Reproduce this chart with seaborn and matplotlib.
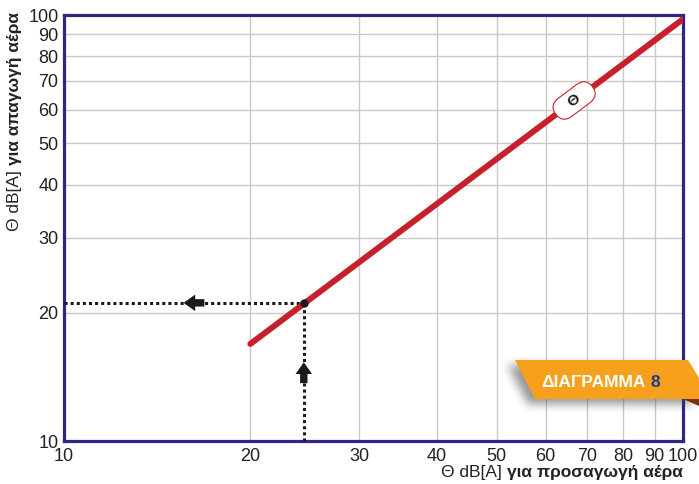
import numpy as np
import pandas as pd
import matplotlib
matplotlib.use("Agg")
import matplotlib.pyplot as plt
import seaborn as sns
from matplotlib.patches import Polygon
from matplotlib.path import Path
from matplotlib.text import Annotation

# noise level at supply (x) vs extract (y)
supply_db = [20, 100]
extract_db = [16.9, 97.8]
tick_vals = [10, 20, 30, 40, 50, 60, 70, 80, 90, 100]
tick_labels = ["10", "20", "30", "40", "50", "60", "70", "80", "90", "100"]

# example reading drawn with dotted lines
read_x = 24.4
read_y = 21.1
arrow_left_x = 15.6
arrow_up_y = 15.3

# position of the curve label
label_x = 66.7
label_y = 63.0

red = "#c8202a"
navy = "#2d2784"
ink = "#1a1a1a"

sns.set_style("white")
plt.rcParams["font.family"] = ["Liberation Sans", "DejaVu Sans"]

W, H = 699, 484
fig = plt.figure(figsize=(W / 100, H / 100), dpi=100)
ax = fig.add_axes([64 / W, 1 - 441 / H, (683 - 64) / W, (441 - 15) / H])

ax.set_xscale("log")
ax.set_yscale("log")
ax.set_xlim(10, 100)
ax.set_ylim(10, 100)
ax.set_xticks(tick_vals, tick_labels)
ax.set_yticks(tick_vals, tick_labels)
ax.minorticks_off()
ax.tick_params(length=0, labelsize=13, colors="#222222")
ax.tick_params(axis="x", pad=5)
ax.tick_params(axis="y", pad=4)
ax.grid(True, color="#c9c9c9", lw=1.0)
for s in ax.spines.values():
    s.set_color(navy)
    s.set_linewidth(2.3)

df = pd.DataFrame({"supply": supply_db, "extract": extract_db})
sns.lineplot(data=df, x="supply", y="extract", color=red, lw=4.3,
             solid_capstyle="round", ax=ax, zorder=4)
ax.set_xlabel("")
ax.set_ylabel("")

# dotted reading lines
dots = (0, (1, 1))
ax.plot([read_x, read_x], [10, read_y], color=ink, lw=2.2, ls=dots, zorder=3)
ax.plot([10, read_x], [read_y, read_y], color=ink, lw=2.2, ls=dots, zorder=3)
ax.plot(read_x, read_y, "o", ms=5, color=ink, zorder=5)

aprops = dict(arrowstyle="simple,head_length=0.6,head_width=0.85,tail_width=0.38",
              lw=0, fc=ink, ec="none", mutation_scale=14, shrinkA=0, shrinkB=0)
ax.annotate("", xy=(arrow_left_x, read_y), xytext=(15, 0),
            textcoords="offset points", arrowprops=aprops, zorder=5)
ax.annotate("", xy=(read_x, arrow_up_y), xytext=(0, -15),
            textcoords="offset points", arrowprops=aprops, zorder=5)

# curve label along the line
p1 = ax.transData.transform((supply_db[0], extract_db[0]))
p2 = ax.transData.transform((supply_db[1], extract_db[1]))
ang = np.degrees(np.arctan2(p2[1] - p1[1], p2[0] - p1[0]))
ax.text(label_x, label_y, "   Θ   ", rotation=ang, rotation_mode="anchor",
        ha="center", va="center", fontsize=11, fontweight="bold",
        color=ink, zorder=6,
        bbox=dict(boxstyle="round,pad=0.28,rounding_size=0.75", fc="white",
                  ec=red, lw=0.8))

# axis titles: regular part + bold part
xb = fig.text(683 / W, 1 - 480 / H, "για προσαγωγή αέρα", fontsize=12.5,
              fontweight="bold", ha="right", va="bottom", color="#222222")
fig.add_artist(Annotation("Θ dB[A] ", xy=(0, 0), xycoords=xb, ha="right",
                          va="bottom", fontsize=12.5, color="#222222"))

yb = fig.text(15 / W, 1 - 12 / H, "για απαγωγή αέρα", fontsize=12.5,
              fontweight="bold", rotation=90, ha="center", va="top",
              color="#222222")
fig.add_artist(Annotation("Θ dB[A] ", xy=(0.5, 0), xycoords=yb, ha="center",
                          va="top", rotation=90, fontsize=12.5,
                          color="#222222"))

# banner "ΔΙΑΓΡΑΜΜΑ 8"
banner = np.array([(515, 360), (688, 360), (699, 378), (699, 399), (535, 399)])
fold = np.array([(683, 399), (699, 399), (699, 406)])

# soft shadow below/left of the banner
yy, xx = np.mgrid[0:H, 0:W]
shadow_poly = Path(banner + np.array([-7, 5]))
mask = shadow_poly.contains_points(np.c_[xx.ravel() + 0.5, yy.ravel() + 0.5])
mask = mask.reshape(H, W).astype(float)
k = np.ones(9) / 9
for _ in range(3):
    mask = np.apply_along_axis(lambda r: np.convolve(r, k, mode="same"), 1, mask)
    mask = np.apply_along_axis(lambda c: np.convolve(c, k, mode="same"), 0, mask)
shade = np.zeros((H, W, 4))
shade[..., :3] = 0.25
shade[..., 3] = mask * 0.55
fig.figimage(shade, 0, 0, origin="upper", zorder=5)


def to_fig(pts):
    return np.c_[pts[:, 0] / W, 1 - pts[:, 1] / H]


fig.add_artist(Polygon(to_fig(banner), closed=True, fc="#f6a01e", ec="none",
                       transform=fig.transFigure, zorder=6))
fig.add_artist(Polygon(to_fig(fold), closed=True, fc="#7a3010", ec="none",
                       transform=fig.transFigure, zorder=6))
bt = fig.text(541 / W, 1 - 387 / H, "ΔΙΑΓΡΑΜΜΑ", fontsize=12.5,
              fontweight="bold", color="white", ha="left", va="baseline",
              zorder=7)
fig.add_artist(Annotation("8", xy=(1, 0), xycoords=bt, xytext=(4, 0),
                          textcoords="offset points", ha="left", va="bottom",
                          fontsize=12.5, fontweight="bold", color="#1c3f8c",
                          zorder=7))

fig.savefig("out.png", dpi=100)
